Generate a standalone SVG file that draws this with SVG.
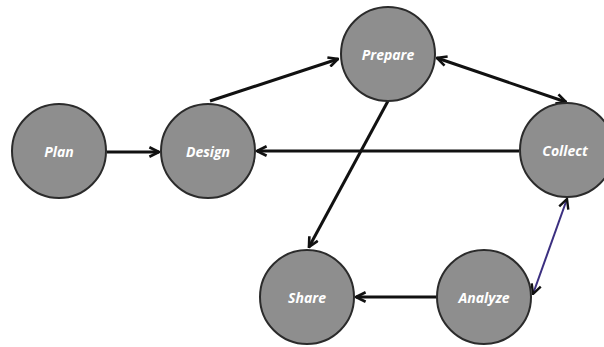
<svg xmlns="http://www.w3.org/2000/svg" width="604" height="347" viewBox="0 0 604 347">
<style>
.n{fill:#8e8e8e;stroke:#2b2b2b;stroke-width:2}
.t{font-family:"Open Sans","DejaVu Sans",sans-serif;font-weight:bold;font-style:italic;font-size:14px;fill:#ffffff;text-anchor:middle;dominant-baseline:central}
.c{stroke:#111;stroke-width:3;fill:none}
.p{stroke:#3b2f80;stroke-width:2;fill:none}
</style>
<defs>
<marker id="a" viewBox="0 0 10 10" refX="9" refY="5" markerWidth="4" markerHeight="4" orient="auto-start-reverse" markerUnits="strokeWidth">
<path d="M1,1 L9,5 L1,9" fill="none" stroke="#111" stroke-width="2.2"/>
</marker>
<marker id="b" viewBox="0 0 10 10" refX="9" refY="5" markerWidth="6" markerHeight="6" orient="auto-start-reverse" markerUnits="strokeWidth">
<path d="M1,1 L9,5 L1,9" fill="none" stroke="#111" stroke-width="2"/>
</marker>
</defs>
<rect width="604" height="347" fill="#ffffff"/>
<g id="connectors">
<line class="c" x1="107" y1="152" x2="159" y2="152" marker-end="url(#a)"/>
<line class="c" x1="210" y1="101" x2="338" y2="59" marker-end="url(#a)"/>
<line class="c" x1="437" y1="58" x2="566" y2="102" marker-start="url(#a)" marker-end="url(#a)"/>
<line class="c" x1="519" y1="151" x2="257" y2="151" marker-end="url(#a)"/>
<line class="c" x1="388" y1="101" x2="309" y2="247" marker-end="url(#a)"/>
<line class="c" x1="437" y1="297" x2="356" y2="297" marker-end="url(#a)"/>
<line class="p" x1="567" y1="199" x2="533" y2="294" marker-start="url(#b)" marker-end="url(#b)"/>
</g>
<g id="plan"><circle class="n" cx="59" cy="151" r="47"/><text class="t" x="59" y="151">Plan</text></g>
<g id="design"><circle class="n" cx="208" cy="151" r="47"/><text class="t" x="208" y="151">Design</text></g>
<g id="prepare"><circle class="n" cx="388" cy="54" r="47"/><text class="t" x="388" y="54">Prepare</text></g>
<g id="collect"><circle class="n" cx="567" cy="150" r="47"/><text class="t" x="565" y="150">Collect</text></g>
<g id="share"><circle class="n" cx="307" cy="297" r="47"/><text class="t" x="307" y="297">Share</text></g>
<g id="analyze"><circle class="n" cx="484" cy="297" r="47"/><text class="t" x="484" y="297">Analyze</text></g>
</svg>
